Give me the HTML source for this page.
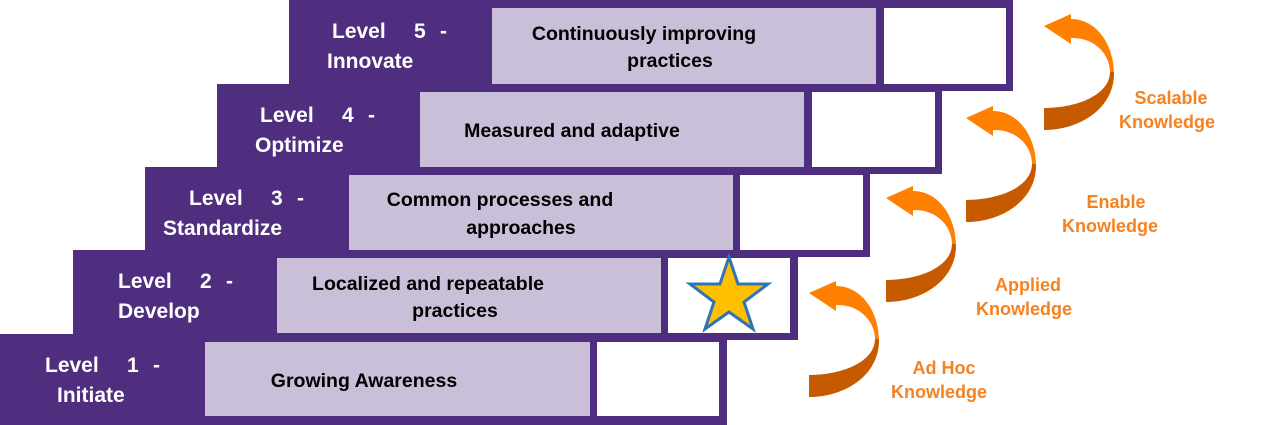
<!DOCTYPE html>
<html><head><meta charset="utf-8"><style>
html,body{margin:0;padding:0;background:#fff;}
svg{display:block;}
text{font-family:"Liberation Sans",sans-serif;font-weight:bold;}
.w{fill:#fff;font-size:21px;}
.b{fill:#000;font-size:19.5px;}
.o{fill:#F58220;font-size:18px;}
</style></head><body>
<svg width="1267" height="425" viewBox="0 0 1267 425" xmlns="http://www.w3.org/2000/svg">
<defs>
<g id="arr">
<path d="M0,12 L27,0 L27,5 C52,5 70,30 70,60 C70,95 35,116 0,116 L0,94 C35,94 66,80 66,58 C66,40 50,23 27,24 L27,30 Z" fill="#FF7F00"/>
<path d="M70,58 C70,95 35,116 0,116 L0,94 C35,94 66,80 66,58 Z" fill="#C55A00"/>
</g>
</defs>
<g fill="#4F2D7F">
<rect x="289" y="0" width="724" height="91"/>
<rect x="217" y="84" width="725" height="90"/>
<rect x="145" y="167" width="725" height="90"/>
<rect x="73" y="250" width="725" height="90"/>
<rect x="0" y="334" width="727" height="91"/>
</g>
<g fill="#C9BFD9">
<rect x="492" y="8" width="384" height="76"/>
<rect x="420" y="92" width="384" height="75"/>
<rect x="349" y="175" width="384" height="75"/>
<rect x="277" y="258" width="384" height="75"/>
<rect x="205" y="342" width="385" height="74"/>
</g>
<g fill="#fff">
<rect x="884" y="8" width="122" height="76"/>
<rect x="812" y="92" width="123" height="75"/>
<rect x="740" y="175" width="123" height="75"/>
<rect x="668" y="258" width="122" height="75"/>
<rect x="597" y="342" width="122" height="74"/>
</g>
<g class="w">
<text x="332" y="38">Level</text><text x="414" y="38">5</text><text x="440" y="38">-</text>
<text x="327" y="68">Innovate</text>
<text x="260" y="122">Level</text><text x="342" y="122">4</text><text x="368" y="122">-</text>
<text x="255" y="152">Optimize</text>
<text x="189" y="205">Level</text><text x="271" y="205">3</text><text x="297" y="205">-</text>
<text x="163" y="235">Standardize</text>
<text x="118" y="288">Level</text><text x="200" y="288">2</text><text x="226" y="288">-</text>
<text x="118" y="318">Develop</text>
<text x="45" y="372">Level</text><text x="127" y="372">1</text><text x="153" y="372">-</text>
<text x="57" y="402">Initiate</text>
</g>
<g class="b" text-anchor="middle">
<text x="644" y="40">Continuously improving</text>
<text x="670" y="67">practices</text>
<text x="572" y="137">Measured and adaptive</text>
<text x="500" y="206">Common processes and</text>
<text x="521" y="234">approaches</text>
<text x="428" y="290">Localized and repeatable</text>
<text x="455" y="317">practices</text>
<text x="364" y="387">Growing Awareness</text>
</g>
<polygon points="729,257 738,284 768,284 744,302 753,329 729,312 705,329 714,302 690,284 720,284" fill="#FFC000" stroke="#2E75B6" stroke-width="3"/>
<use href="#arr" x="809" y="281"/>
<use href="#arr" x="886" y="186"/>
<use href="#arr" x="966" y="106"/>
<use href="#arr" x="1044" y="14"/>
<g class="o" text-anchor="middle">
<text x="1171" y="104">Scalable</text><text x="1167" y="128">Knowledge</text>
<text x="1116" y="208">Enable</text><text x="1110" y="232">Knowledge</text>
<text x="1028" y="291">Applied</text><text x="1024" y="315">Knowledge</text>
<text x="944" y="374">Ad Hoc</text><text x="939" y="398">Knowledge</text>
</g>
</svg>
</body></html>
